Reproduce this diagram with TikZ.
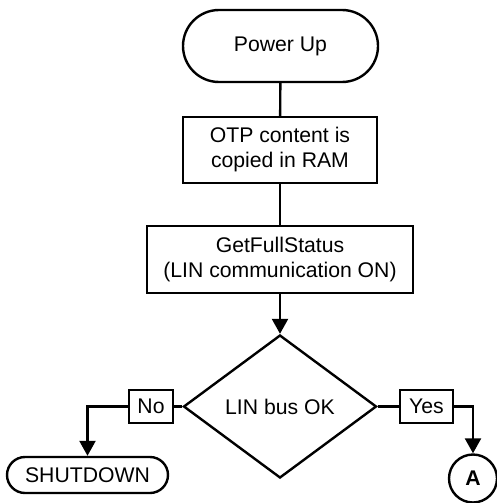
\documentclass[tikz,border=0pt]{standalone}
\usepackage{fontspec}
\setmainfont{Liberation Sans}
\usetikzlibrary{shapes.misc,shapes.geometric,arrows.meta}
\begin{document}
\begin{tikzpicture}[x=0.5pt,y=-0.5pt,
  every node/.style={font=\fontsize{10.6}{12.5}\selectfont, align=center, draw, line width=1.2pt, inner sep=0pt},
  term/.style={rounded rectangle},
  procbox/.style={rectangle},
  decide/.style={diamond},
  lbl/.style={rectangle},
  conn/.style={circle, minimum size=24pt, font=\fontsize{10.6}{12.5}\selectfont\bfseries},
  line/.style={line width=1.2pt},
  arr/.style={line width=1.2pt, -{Triangle[length=7.5pt,width=8pt]}}]
\useasboundingbox (0,0) rectangle (497,503);
\node[term, minimum width=97.5pt, minimum height=36pt] (pu) at (280.5,46) {Power Up};
\node[procbox, minimum width=97pt, minimum height=33pt] (otp) at (280,150) {OTP content is\\copied in RAM};
\node[procbox, minimum width=133pt, minimum height=33.5pt] (gfs) at (280,259.5) {GetFullStatus\\(LIN communication ON)};
\node[decide, minimum width=96.5pt, minimum height=71.5pt] (dec) at (280,406.5) {LIN bus OK};
\node[lbl, minimum width=22pt, minimum height=16.5pt] (no) at (151,406.5) {No};
\node[lbl, minimum width=26.5pt, minimum height=16.5pt] (yes) at (426.5,406.5) {Yes};
\node[term, minimum width=80.5pt, minimum height=18pt] (sd) at (87.5,475) {SHUTDOWN};
\node[conn] (a) at (473,478.5) {A};
\draw[line] (pu) -- (otp);
\draw[line] (otp) -- (gfs);
\draw[arr] (gfs) -- (dec);
\draw[line] (dec.west) -- (no.east);
\draw[arr] (no.west) -| (sd.north);
\draw[line] (dec.east) -- (yes.west);
\draw[arr] (yes.east) -| (a.north);
\end{tikzpicture}
\end{document}
